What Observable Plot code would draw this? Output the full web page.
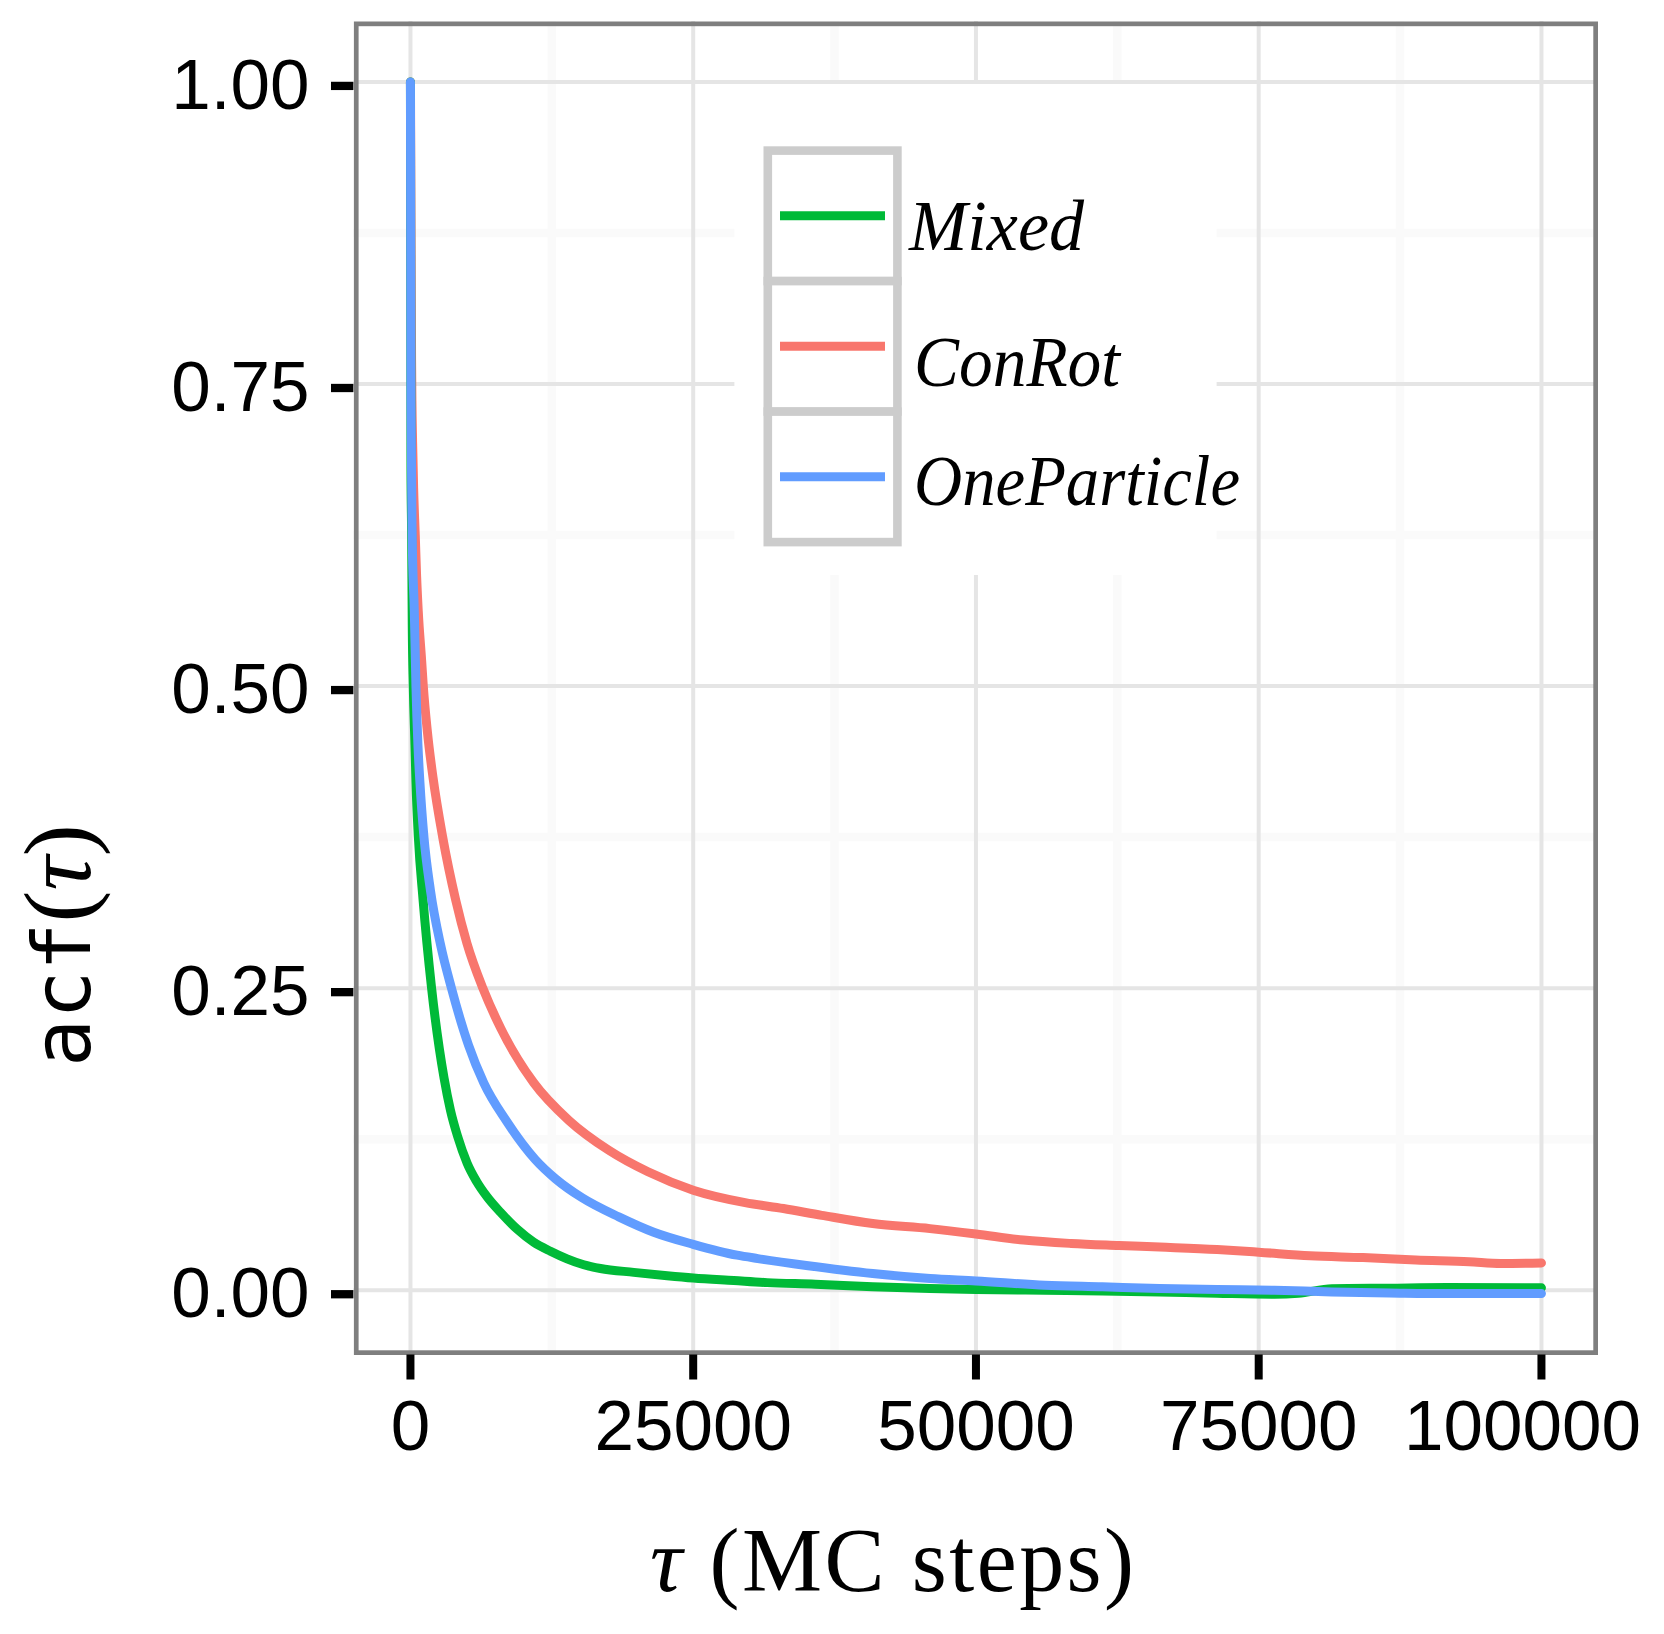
<!DOCTYPE html>
<html>
<head>
<meta charset="utf-8">
<script src="https://cdn.jsdelivr.net/npm/d3@7"></script>
<script src="https://cdn.jsdelivr.net/npm/@observablehq/plot@0.6"></script>
<style>
  html, body { margin: 0; padding: 0; background: white; }
  #wrap { position: relative; width: 1664px; height: 1634px; }
  #wrap svg { position: absolute; left: 0; top: 0; }
</style>
</head>
<body>
<div id="wrap"></div>
<script>
// ---- data ----
const seriesNames = ["ConRot", "Mixed", "OneParticle"];           // drawing order
const seriesColors = ["#F8766D", "#00BA38", "#619CFF"];
const legendOrder = ["Mixed", "ConRot", "OneParticle"];

const tauConRot = [0, 100, 130, 190, 280, 425, 545, 690, 990, 1135, 1500, 2000, 2850, 4000, 5000, 6400, 8000, 10900, 14000, 17540, 21000, 25000, 29590, 32980, 36370, 40870, 45940, 50000, 54200, 58420, 62640, 66240, 71320, 75000, 79530, 84220, 88900, 93600, 96410, 100000];
const acfConRot = [1, 0.77, 0.736, 0.702, 0.664, 0.625, 0.591, 0.562, 0.521, 0.5, 0.462, 0.424, 0.375, 0.323, 0.287, 0.25, 0.2165, 0.1717, 0.1406, 0.1158, 0.098, 0.0828, 0.0725, 0.0676, 0.062, 0.0552, 0.051, 0.0466, 0.0415, 0.0387, 0.037, 0.0357, 0.0337, 0.0315, 0.0285, 0.027, 0.025, 0.0236, 0.0222, 0.0226];

const tauMixed = [0, 45, 105, 160, 250, 400, 490, 700, 1100, 1870, 2975, 3537, 4182, 5013, 5836, 6808, 7958, 9434, 10902, 12378, 13846, 15323, 16799, 19743, 22697, 25005, 28590, 31540, 35790, 40870, 45940, 50000, 56090, 61170, 66240, 71320, 76390, 78500, 81470, 86550, 91630, 100000];
const acfMixed = [1, 0.68, 0.625, 0.55, 0.5, 0.451, 0.42, 0.375, 0.325, 0.25, 0.1754, 0.149, 0.127, 0.1051, 0.0902, 0.0769, 0.0645, 0.0505, 0.0397, 0.0323, 0.026, 0.0211, 0.018, 0.0148, 0.012, 0.0101, 0.008, 0.0063, 0.005, 0.0028, 0.0014, 0.0006, 0, -0.0006, -0.0014, -0.0025, -0.0033, -0.0025, 0.0012, 0.0017, 0.0022, 0.002];

const tauOneParticle = [0, 45, 150, 340, 486, 663, 840, 1194, 1768, 2653, 3625, 5128, 6481, 8488, 11052, 12820, 15180, 18420, 21510, 25000, 28880, 30720, 35000, 40870, 45940, 50000, 56090, 61170, 66240, 71320, 76390, 81470, 86550, 91630, 100000];
const acfOneParticle = [1, 0.736, 0.625, 0.562, 0.5, 0.451, 0.42, 0.375, 0.331, 0.2863, 0.25, 0.203, 0.1716, 0.14, 0.108, 0.0923, 0.0765, 0.0607, 0.048, 0.038, 0.029, 0.0262, 0.0205, 0.0138, 0.0097, 0.0077, 0.0041, 0.0028, 0.0014, 0.0006, 0, -0.0014, -0.0022, -0.0028, -0.0028];

const xTicks = [0, 25000, 50000, 75000, 100000];
const xMinor = [12500, 37500, 62500, 87500];
const yTicks = [0, 0.25, 0.5, 0.75, 1];
const yMinor = [0.125, 0.375, 0.625, 0.875];

// ---- table ----
const rows = [];
const src = {ConRot: [tauConRot, acfConRot], Mixed: [tauMixed, acfMixed], OneParticle: [tauOneParticle, acfOneParticle]};
for (const s of seriesNames) {
  const [t, a] = src[s];
  t.forEach((v, i) => rows.push({series: s, tau: v, acf: a[i]}));
}

const W = 1664, H = 1634;
const lastTick = xTicks[xTicks.length - 1];
const chart = Plot.plot({
  width: W, height: H,
  marginLeft: 353.4, marginRight: 66.5, marginTop: 21, marginBottom: 279.5,
  style: {background: "white", fontFamily: "'Liberation Sans', Arial, sans-serif", color: "black"},
  x: {domain: [-5000, 105000], label: null},
  y: {domain: [-0.0536, 1.05], label: null},
  color: {domain: seriesNames, range: seriesColors},
  marks: [
    Plot.gridX({ticks: xMinor, stroke: "#fafafa", strokeOpacity: 1, strokeWidth: 8.5}),
    Plot.gridY({ticks: yMinor, stroke: "#fafafa", strokeOpacity: 1, strokeWidth: 8.5}),
    Plot.gridX({ticks: xTicks, stroke: "#e5e5e5", strokeOpacity: 1, strokeWidth: 4}),
    Plot.gridY({ticks: yTicks, stroke: "#e5e5e5", strokeOpacity: 1, strokeWidth: 4}),
    Plot.line(rows, {x: "tau", y: "acf", z: "series", stroke: "series", strokeWidth: 9, curve: "monotone-x", strokeLinejoin: "round"}),
    Plot.frame({stroke: "#7f7f7f", strokeWidth: 4.7, inset: 2.35}),
    Plot.axisX({ticks: xTicks, tickSize: 25, tickPadding: 19.4, strokeWidth: 8, fontSize: 71,
      tickFormat: d => d === lastTick ? "" : String(d), label: null}),
    Plot.axisX({ticks: [lastTick], tickSize: 0, tickPadding: 44.4, dx: -19, fontSize: 71,
      tickFormat: d => String(d), label: null}),
    Plot.axisY({ticks: yTicks, tickSize: 22.4, tickPadding: 22, strokeWidth: 8.3, fontSize: 71, dy: 4,
      tickFormat: d3.format(".2f"), label: null})
  ]
});
const wrap = document.getElementById("wrap");
wrap.appendChild(chart);

// ---- legend and axis titles (overlay) ----
const ns = "http://www.w3.org/2000/svg";
const ov = d3.select(wrap).append("svg")
  .attr("xmlns", ns).attr("width", W).attr("height", H)
  .style("pointer-events", "none");

// legend background
ov.append("rect").attr("x", 734.4).attr("y", 84).attr("width", 482.2).attr("height", 491).attr("fill", "white");
const keyTop = 150.6, keyH = 130.5;
const labelLengths = {Mixed: 175, ConRot: 206, OneParticle: 326};
legendOrder.forEach((name, i) => {
  const y0 = keyTop + i * keyH;
  ov.append("rect").attr("x", 767.8).attr("y", y0).attr("width", 129.6).attr("height", keyH)
    .attr("fill", "white").attr("stroke", "#cccccc").attr("stroke-width", 8.6);
  const cy = y0 + keyH / 2;
  ov.append("line").attr("x1", 780).attr("x2", 885).attr("y1", cy).attr("y2", cy)
    .attr("stroke", seriesColors[seriesNames.indexOf(name)]).attr("stroke-width", 9);
  ov.append("text").attr("x", name === "Mixed" ? 909 : 914).attr("y", cy + (name === "Mixed" ? 34 : name === "ConRot" ? 40 : 28))
    .attr("font-family", "'Liberation Serif', serif").attr("font-style", "italic").attr("font-size", 71)
    .attr("textLength", labelLengths[name]).attr("lengthAdjust", "spacingAndGlyphs")
    .attr("fill", "black").text(name);
});

// x axis title
const xt = ov.append("text").attr("x", 650).attr("y", 1591)
  .attr("font-family", "'Liberation Serif', serif").attr("font-size", 90).attr("fill", "black")
  .attr("textLength", 484);
xt.append("tspan").attr("font-style", "italic").text("τ");
xt.append("tspan").text(" (MC steps)");

// y axis title
const yt = ov.append("text").attr("transform", "translate(90,1067) rotate(-90)").attr("fill", "black");
yt.append("tspan").attr("font-family", "'DejaVu Sans Mono', monospace").attr("font-size", 80).text("acf");
yt.append("tspan").attr("font-family", "'Liberation Serif', serif").attr("font-size", 96).text("(");
yt.append("tspan").attr("font-family", "'Liberation Serif', serif").attr("font-size", 96).attr("font-style", "italic").text("τ");
yt.append("tspan").attr("font-family", "'Liberation Serif', serif").attr("font-size", 96).text(")");
</script>
</body>
</html>
